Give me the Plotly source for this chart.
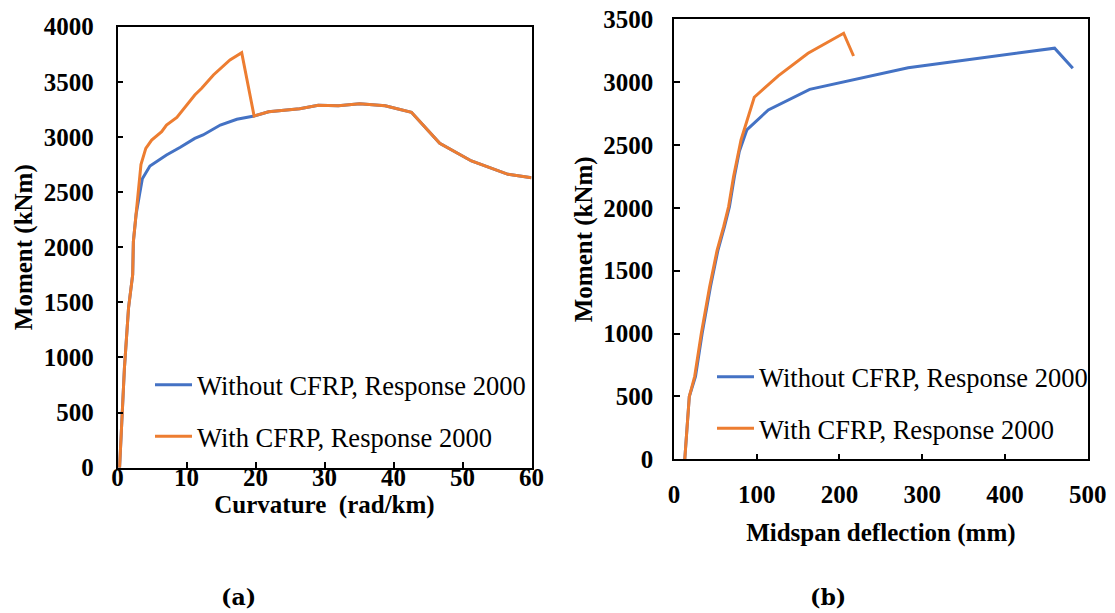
import plotly.graph_objects as go

# ---- (a) Moment-curvature ----
curv_without = [0.3, 0.6, 1.0, 1.6, 2.2, 2.3, 2.7, 3.2, 3.6, 4.7, 7.1, 9.1, 11.2, 12.4, 14.9, 17.3, 19.8,
                21.9, 26.4, 29.1, 32.0, 35.1, 38.8, 42.6, 46.7, 51.3, 56.6, 60.0]
mom_without = [0, 400, 900, 1450, 1750, 2050, 2300, 2480, 2620, 2736, 2836, 2906, 2987, 3018, 3108, 3160, 3190,
               3229, 3256, 3287, 3284, 3302, 3283, 3223, 2942, 2782, 2661, 2630]
curv_with = [0.3, 0.6, 1.0, 1.6, 2.2, 2.3, 2.7, 3.0, 3.4, 4.1, 4.95, 6.4, 7.1, 8.6, 9.5, 11.2, 12.2, 13.9, 16.3,
             18.0, 19.8, 21.9, 26.4, 29.1, 32.0, 35.1, 38.8, 42.6, 46.7, 51.3, 56.6, 60.0]
mom_with = [0, 400, 900, 1450, 1750, 2050, 2300, 2500, 2750, 2897, 2972, 3048, 3108, 3178, 3250, 3380, 3441, 3562,
            3698, 3764, 3190, 3229, 3256, 3287, 3284, 3302, 3283, 3223, 2942, 2782, 2661, 2630]

# ---- (b) Moment-deflection ----
defl_without = [13, 18.5, 26, 34, 44, 53, 61, 67, 73, 79, 88, 114, 164, 283, 460, 482]
momb_without = [0, 500, 660, 1000, 1370, 1660, 1850, 2010, 2250, 2450, 2620, 2779, 2943, 3115, 3270, 3110]
defl_with = [13, 18.5, 25, 33, 43, 52, 60, 66, 72, 81, 97, 126, 162, 205, 217]
momb_with = [0, 500, 660, 1000, 1370, 1660, 1850, 2010, 2250, 2540, 2880, 3050, 3230, 3389, 3208]

names = ["Without CFRP, Response 2000", "With CFRP, Response 2000"]
colors = ["#4472C4", "#ED7D31"]

W, H = 1115, 613
def px(x): return x / W
def py(y): return (H - y) / H

SERIF = "Liberation Serif, Times New Roman, serif"

fig = go.Figure()
fig.add_trace(go.Scatter(x=curv_without, y=mom_without, mode="lines", name=names[0],
                         line=dict(color=colors[0], width=3), xaxis="x", yaxis="y",
                         legend="legend", legendgroup="a1"))
fig.add_trace(go.Scatter(x=curv_with, y=mom_with, mode="lines", name=names[1],
                         line=dict(color=colors[1], width=3), xaxis="x", yaxis="y",
                         legend="legend", legendgroup="a2"))
fig.add_trace(go.Scatter(x=defl_without, y=momb_without, mode="lines", name=names[0],
                         line=dict(color=colors[0], width=3), xaxis="x2", yaxis="y2",
                         legend="legend2", legendgroup="b1"))
fig.add_trace(go.Scatter(x=defl_with, y=momb_with, mode="lines", name=names[1],
                         line=dict(color=colors[1], width=3), xaxis="x2", yaxis="y2",
                         legend="legend2", legendgroup="b2"))

tickfont = dict(family=SERIF, size=25, color="black", weight="bold")
titlefont = dict(family=SERIF, size=25, color="black", weight="bold")
axis_common = dict(showgrid=False, zeroline=False, showline=True, linecolor="black", linewidth=1.5,
                   mirror=True, ticks="inside", ticklen=6, tickwidth=1.5, tickcolor="black",
                   tickfont=tickfont, automargin=False)

fig.update_layout(
    width=W, height=H, margin=dict(l=0, r=0, t=0, b=0),
    paper_bgcolor="white", plot_bgcolor="white",
    xaxis=dict(domain=[px(117.5), px(531.5)], range=[0, 60], dtick=10, anchor="y",
               ticklabelstandoff=-13,
               title=dict(text="Curvature  (rad/km)", font=titlefont, standoff=5), **axis_common),
    yaxis=dict(domain=[py(467.7), py(26.7)], range=[0, 4000], dtick=500, anchor="x",
               ticklabelstandoff=17,
               title=dict(text="Moment (kNm)", font=titlefont, standoff=4), **axis_common),
    xaxis2=dict(domain=[px(674), px(1087.7)], range=[0, 500], dtick=100, anchor="y2",
                ticklabelstandoff=12,
                title=dict(text="Midspan deflection (mm)", font=titlefont, standoff=16), **axis_common),
    yaxis2=dict(domain=[py(459.3), py(19.3)], range=[0, 3500], dtick=500, anchor="x2",
                ticklabelstandoff=14,
                title=dict(text="Moment (kNm)", font=titlefont, standoff=3), **axis_common),
    legend=dict(x=px(150), y=py(361), xanchor="left", yanchor="top", bgcolor="rgba(0,0,0,0)",
                font=dict(family=SERIF, size=26.5, color="black"), traceorder="grouped",
                tracegroupgap=14, itemwidth=37),
    legend2=dict(x=px(712), y=py(353), xanchor="left", yanchor="top", bgcolor="rgba(0,0,0,0)",
                 font=dict(family=SERIF, size=26.5, color="black"), traceorder="grouped",
                 tracegroupgap=14, itemwidth=37),
    annotations=[
        dict(text="(a)", x=px(238), y=py(597), xref="paper", yref="paper", showarrow=False,
             xanchor="center", yanchor="middle",
             font=dict(family="DejaVu Serif, serif", size=22, color="black", weight="bold")),
        dict(text="(b)", x=px(828), y=py(597), xref="paper", yref="paper", showarrow=False,
             xanchor="center", yanchor="middle",
             font=dict(family="DejaVu Serif, serif", size=22, color="black", weight="bold")),
    ],
)

fig.write_html("out.html", config={"displayModeBar": False},
               post_script="document.body.style.margin='0';document.body.style.overflow='hidden';")
